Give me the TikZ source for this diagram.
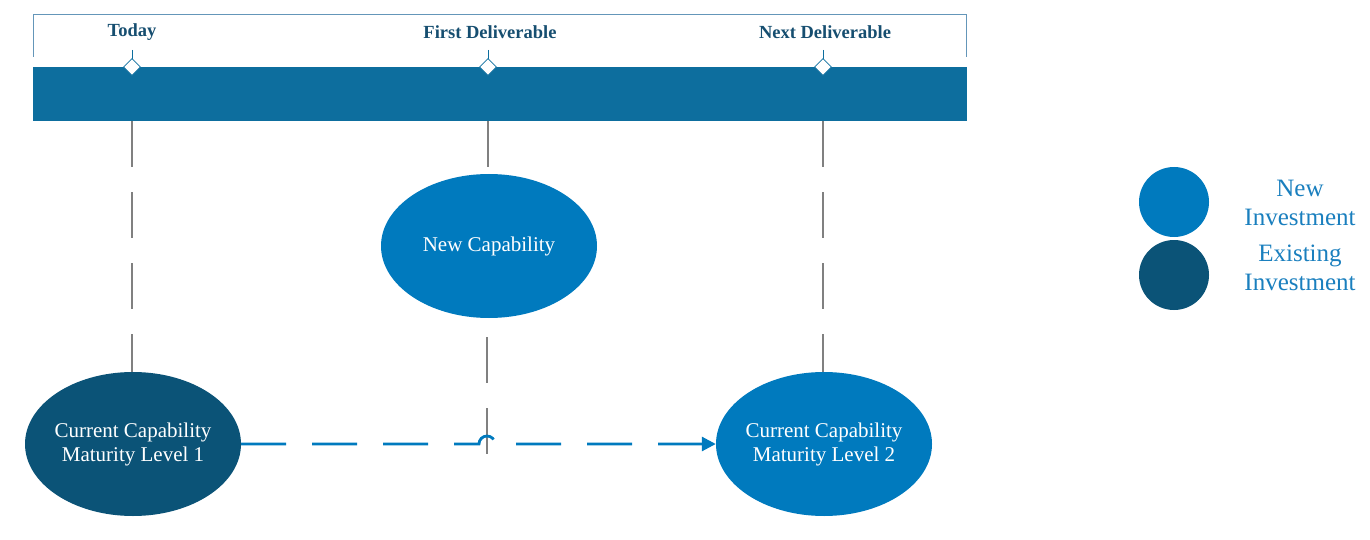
\documentclass[tikz,border=0pt]{standalone}
\usepackage{fontspec}
\setmainfont{Liberation Serif}
\usetikzlibrary{shapes.geometric,arrows.meta}
\definecolor{barblue}{RGB}{13,110,158}
\definecolor{newblue}{RGB}{0,122,190}
\definecolor{oldblue}{RGB}{11,83,119}
\definecolor{lblue}{RGB}{26,127,190}
\definecolor{labblue}{RGB}{22,78,112}
\definecolor{brk}{RGB}{100,150,185}
\definecolor{gline}{RGB}{128,128,128}
\tikzset{
  capnode/.style={ellipse,minimum width=216pt,minimum height=144pt,inner ysep=0pt,inner xsep=-6pt,text=white,align=center,font=\fontsize{21}{24}\selectfont},
  legdot/.style={circle,minimum size=70pt,inner sep=0pt},
  legtext/.style={text=lblue,align=center,font=\fontsize{25}{29}\selectfont},
  mslabel/.style={text=labblue,font=\bfseries\fontsize{18.5}{20}\selectfont},
  msdiamond/.style={diamond,draw=barblue,line width=0.6pt,fill=white,minimum size=17pt,inner sep=0pt},
  gdash/.style={draw=gline,line width=2.4pt,dash pattern=on 46pt off 25pt},
  flowarrow/.style={draw=newblue,line width=2.8pt,dash pattern=on 45pt off 26pt,-{Triangle[length=14pt,width=14pt]}}
}
\begin{document}
\begin{tikzpicture}[x=1pt,y=-1pt]
\useasboundingbox (0,0) rectangle (1370,540);
% bracket
\draw[brk,line width=0.9pt] (33,57) -- (33,14) -- (966,14) -- (966,57);
% bar
\node[fill=barblue,minimum width=934pt,minimum height=54pt,inner sep=0pt,anchor=north west] (bar) at (33,67) {};
% milestones
\coordinate (t1) at (132,67);
\coordinate (t2) at (488,67);
\coordinate (t3) at (823,67);
\foreach \t in {t1,t2,t3}{
  \draw[barblue,line width=0.6pt] (\t) ++(0,-17) -- (\t);
  \node[msdiamond] at (\t) {};
}
\node[mslabel] (l1) at (132,32) {Today};
\node[mslabel] (l2) at (490,32) {First Deliverable};
\node[mslabel] (l3) at (825,32) {Next Deliverable};
% ellipses
\node[capnode,fill=newblue] (newcap) at (489,246) {New Capability};
\node[capnode,fill=oldblue] (ml1) at (133,444) {Current Capability\\Maturity Level 1};
\node[capnode,fill=newblue] (ml2) at (824,444) {Current Capability\\Maturity Level 2};
% vertical dashed lines
\draw[gdash] (t1 |- bar.south) -- (t1 |- ml1.north);
\draw[gdash] (t3 |- bar.south) -- (t3 |- ml2.north);
\draw[gdash] (t2 |- bar.south) -- (t2 |- newcap.north);
\coordinate (mid end) at (487,455);
\draw[gdash,dash phase=52pt] (newcap.south -| mid end) -- (mid end);
% arrow with hop
\draw[flowarrow] (ml1.east) -- (479,444) arc (180:360:8) -- (ml2.west);
% legend
\node[legdot,fill=newblue] (dnew) at (1174,202) {};
\node[legdot,fill=oldblue] (dold) at (1174,275) {};
\node[legtext] (tnew) at (1300,203) {New\\Investment};
\node[legtext] (told) at (1300,268) {Existing\\Investment};
\end{tikzpicture}
\end{document}
